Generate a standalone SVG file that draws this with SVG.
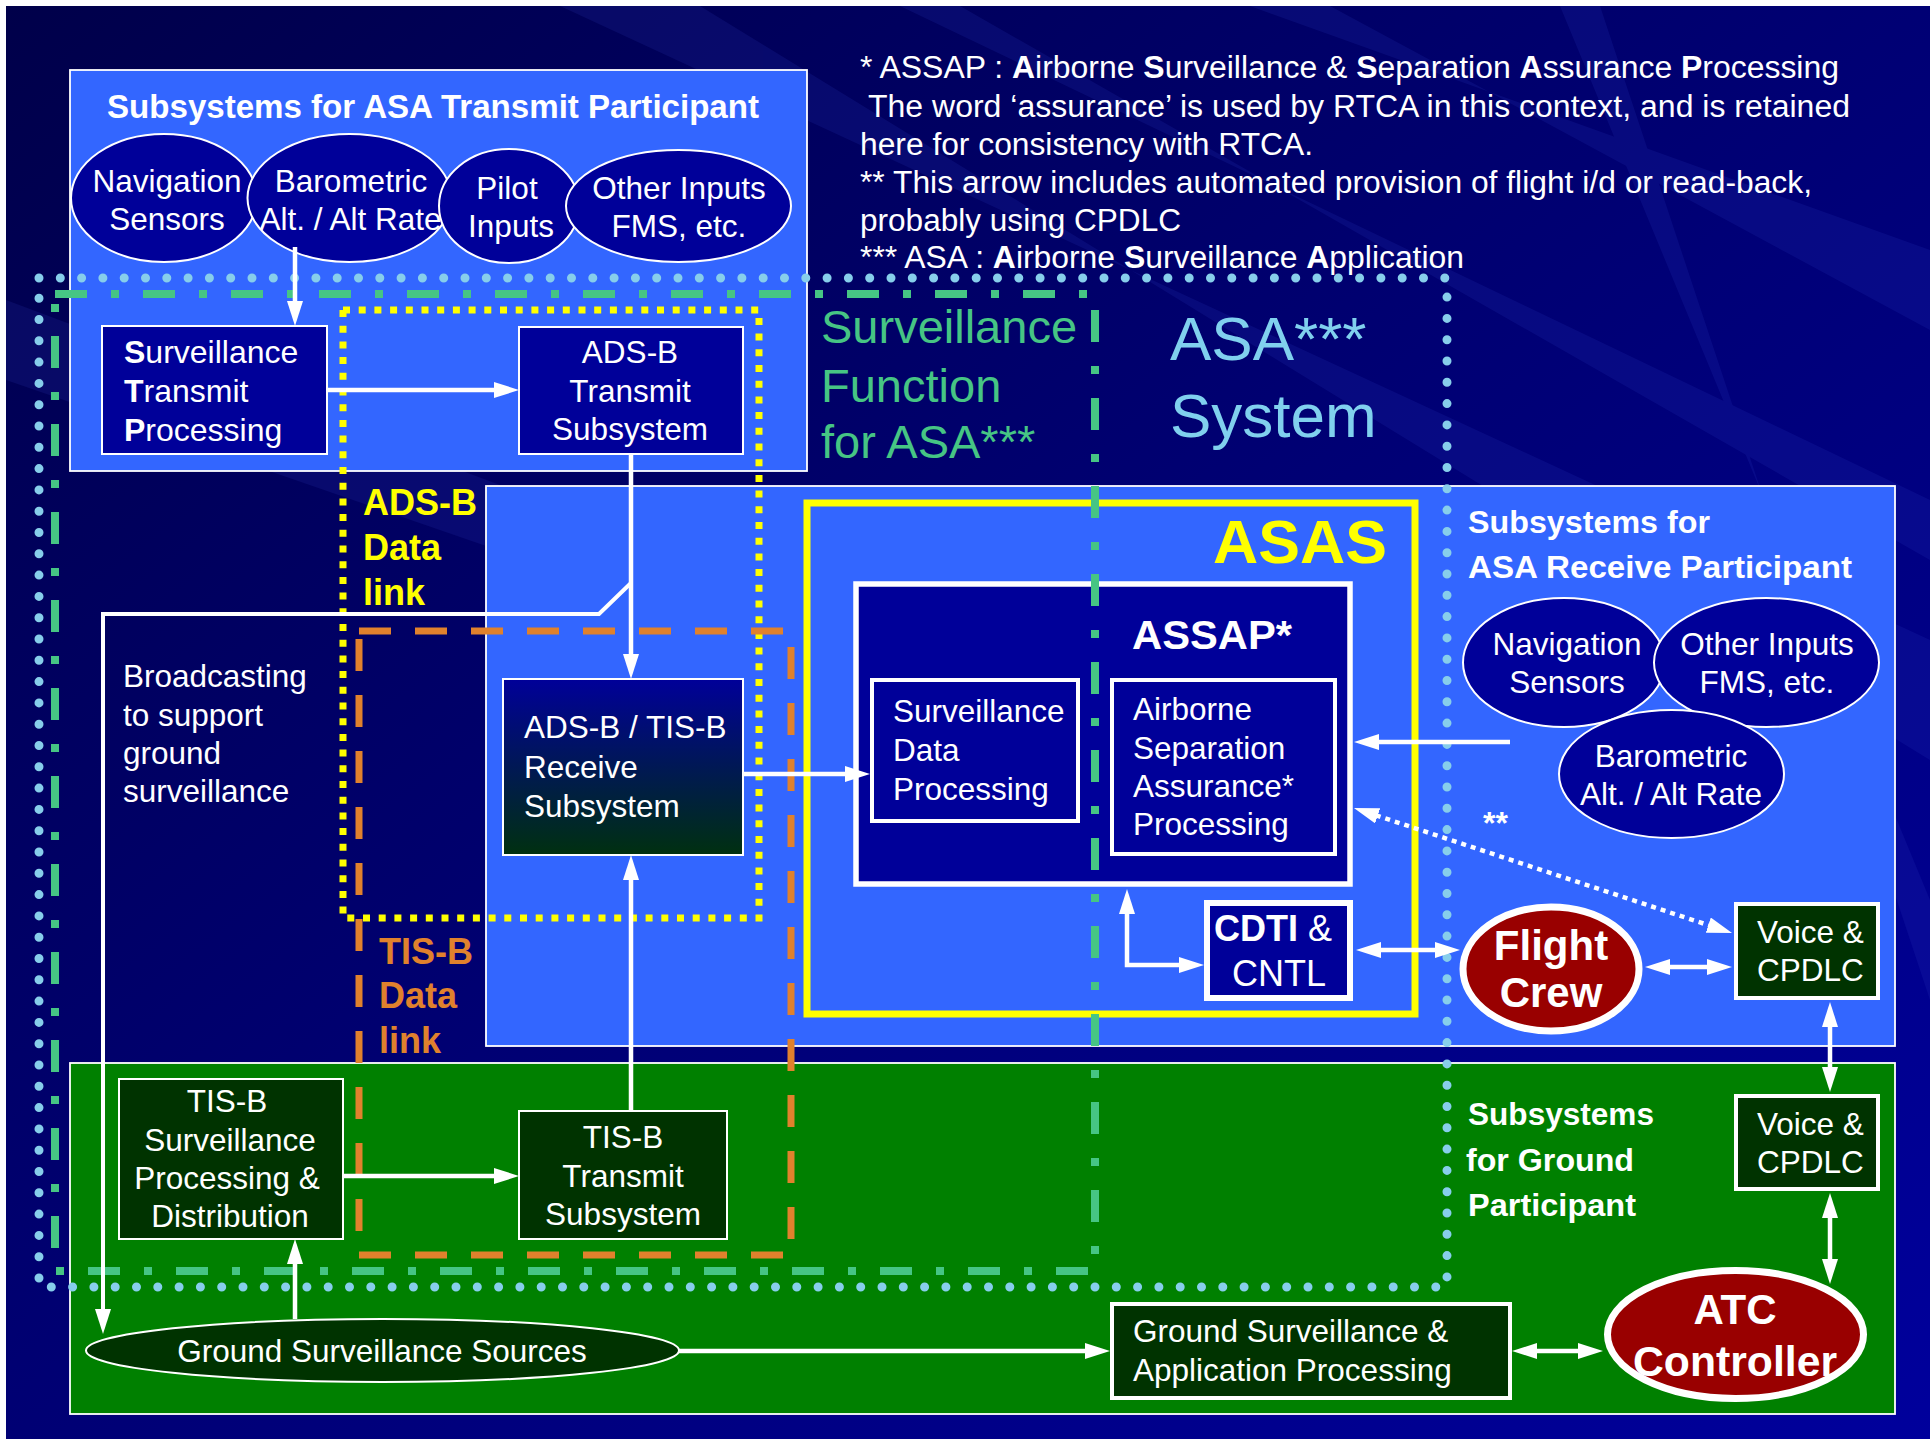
<svg xmlns="http://www.w3.org/2000/svg" width="1930" height="1439" viewBox="0 0 1930 1439" font-size="31.5">
<defs>
<linearGradient id="bg" x1="0" y1="0" x2="1" y2="1">
<stop offset="0" stop-color="#00004a"/>
<stop offset="0.5" stop-color="#000074"/>
<stop offset="1" stop-color="#00009c"/>
</linearGradient>
<linearGradient id="rcv" x1="0" y1="0" x2="0" y2="1">
<stop offset="0" stop-color="#000099"/>
<stop offset="1" stop-color="#003010"/>
</linearGradient>
<marker id="ah" markerUnits="userSpaceOnUse" markerWidth="25" markerHeight="16" viewBox="0 0 25 16" refX="12" refY="8" orient="auto-start-reverse">
<path d="M0,0 L25,8 L0,16 z" fill="#fff"/>
</marker>
<style>
text{font-family:'Liberation Sans',Arial,Helvetica,sans-serif;fill:#fff}
.b{font-weight:bold}
.m{text-anchor:middle}
.region{stroke:#fff;stroke-width:1.8}
.navy{fill:#000099;stroke:#fff}
.dg{fill:#003300;stroke:#fff}
.red{fill:#990000;stroke:#fff;stroke-width:7}
.conn{stroke:#fff;stroke-width:4.5;fill:none}
.frame{fill:none}
</style>
</defs>

<rect x="0" y="0" width="1930" height="1439" fill="#fff"/>
<rect x="6" y="6" width="1924" height="1433" fill="url(#bg)"/>
<g opacity="0.15" fill="#3344cc">
<polygon points="560,6 700,6 1930,760 1930,640"/>
<polygon points="900,6 960,6 1930,560 1930,500"/>
<polygon points="1250,6 1330,6 1930,330 1930,250"/>
<polygon points="1560,6 1600,6 1930,1000 1930,900"/>
<polygon points="6,300 6,380 700,620 700,560"/>
</g>

<g id="transmit-participant">
<rect class="region" x="70" y="70" width="737" height="401" fill="#3366ff"/>
<text class="b" x="107" y="118" font-size="33" textLength="652" lengthAdjust="spacingAndGlyphs">Subsystems for ASA Transmit Participant</text>
</g>
<g id="receive-participant">
<rect class="region" x="486" y="486" width="1409" height="560" fill="#3366ff"/>
<text class="b" x="1468" y="533" font-size="32" textLength="242" lengthAdjust="spacingAndGlyphs">Subsystems for</text>
<text class="b" x="1468" y="578" font-size="32" textLength="384" lengthAdjust="spacingAndGlyphs">ASA Receive Participant</text>
</g>
<g id="ground-participant">
<rect class="region" x="70" y="1063" width="1825" height="351" fill="#008000"/>
<text class="b" x="1468" y="1125" font-size="32" textLength="186" lengthAdjust="spacingAndGlyphs">Subsystems</text>
<text class="b" x="1466" y="1171" font-size="32" textLength="168" lengthAdjust="spacingAndGlyphs">for Ground</text>
<text class="b" x="1468" y="1216" font-size="32" textLength="168" lengthAdjust="spacingAndGlyphs">Participant</text>
</g>

<g id="notes" font-size="31">
<text x="860" y="78" textLength="979" lengthAdjust="spacingAndGlyphs">* ASSAP : <tspan class="b">A</tspan>irborne <tspan class="b">S</tspan>urveillance &amp; <tspan class="b">S</tspan>eparation <tspan class="b">A</tspan>ssurance <tspan class="b">P</tspan>rocessing</text>
<text x="868" y="117" textLength="982" lengthAdjust="spacingAndGlyphs">The word ‘assurance’ is used by RTCA in this context, and is retained</text>
<text x="860" y="155" textLength="453" lengthAdjust="spacingAndGlyphs">here for consistency with RTCA.</text>
<text x="860" y="193" textLength="952" lengthAdjust="spacingAndGlyphs">** This arrow includes automated provision of flight i/d or read-back,</text>
<text x="860" y="231" textLength="321" lengthAdjust="spacingAndGlyphs">probably using CPDLC</text>
<text x="860" y="268" textLength="604" lengthAdjust="spacingAndGlyphs">*** ASA : <tspan class="b">A</tspan>irborne <tspan class="b">S</tspan>urveillance <tspan class="b">A</tspan>pplication</text>
</g>

<g id="labels">
<text x="821" y="343" font-size="47" style="fill:#46c584">Surveillance</text>
<text x="821" y="402" font-size="47" style="fill:#46c584">Function</text>
<text x="821" y="458" font-size="47" style="fill:#46c584">for ASA***</text>
<text x="1170" y="360" font-size="62" style="fill:#80d0ee">ASA***</text>
<text x="1170" y="437" font-size="62" style="fill:#80d0ee">System</text>
<text class="b" x="363" y="515" font-size="36" style="fill:#ffff00">ADS-B</text>
<text class="b" x="363" y="560" font-size="36" style="fill:#ffff00">Data</text>
<text class="b" x="363" y="605" font-size="36" style="fill:#ffff00">link</text>
<text class="b" x="379" y="964" font-size="36" style="fill:#e0812d">TIS-B</text>
<text class="b" x="379" y="1008" font-size="36" style="fill:#e0812d">Data</text>
<text class="b" x="379" y="1053" font-size="36" style="fill:#e0812d">link</text>
<text x="123" y="687">Broadcasting</text>
<text x="123" y="726">to support</text>
<text x="123" y="764">ground</text>
<text x="123" y="802">surveillance</text>
<text class="b" x="1483" y="834" font-size="32">**</text>
</g>

<g id="asas">
<rect x="807" y="503" width="608" height="511" fill="none" stroke="#ffff00" stroke-width="7"/>
<text class="b" x="1213" y="563" font-size="62" style="fill:#ffff00" textLength="174" lengthAdjust="spacingAndGlyphs">ASAS</text>
</g>

<g id="tx-nav-sensors">
<ellipse class="navy" cx="164" cy="198" rx="93" ry="64" stroke-width="2"/>
<text class="m" x="167" y="192">Navigation</text>
<text class="m" x="167" y="230">Sensors</text>
</g>
<g id="tx-barometric">
<ellipse class="navy" cx="349.5" cy="198" rx="102" ry="64" stroke-width="2"/>
<text class="m" x="351" y="192">Barometric</text>
<text class="m" x="350.5" y="230">Alt. / Alt Rate</text>
</g>
<g id="tx-pilot-inputs">
<ellipse class="navy" cx="509" cy="206" rx="70" ry="57" stroke-width="2"/>
<text class="m" x="507" y="199">Pilot</text>
<text class="m" x="511" y="237">Inputs</text>
</g>
<g id="tx-other-inputs">
<ellipse class="navy" cx="678.5" cy="206" rx="112.5" ry="56" stroke-width="2"/>
<text class="m" x="679" y="199">Other Inputs</text>
<text class="m" x="679" y="237">FMS, etc.</text>
</g>

<g id="surveillance-transmit-processing">
<rect class="navy" x="102" y="326" width="225" height="128" stroke-width="2"/>
<text x="124" y="363" font-size="32"><tspan class="b">S</tspan>urveillance</text>
<text x="124" y="402" font-size="32"><tspan class="b">T</tspan>ransmit</text>
<text x="124" y="441" font-size="32"><tspan class="b">P</tspan>rocessing</text>
</g>
<g id="adsb-transmit">
<rect class="navy" x="519" y="327" width="224" height="127" stroke-width="2"/>
<text class="m" x="630" y="363">ADS-B</text>
<text class="m" x="630" y="402">Transmit</text>
<text class="m" x="630" y="440">Subsystem</text>
</g>
<g id="adsb-tisb-receive">
<rect x="503" y="679" width="240" height="176" fill="url(#rcv)" stroke="#fff" stroke-width="2"/>
<text x="524" y="738">ADS-B / TIS-B</text>
<text x="524" y="778">Receive</text>
<text x="524" y="817">Subsystem</text>
</g>

<g id="assap">
<rect class="navy" x="856" y="584" width="494" height="300" stroke-width="5.5"/>
<text class="b" x="1132" y="649" font-size="41" textLength="160" lengthAdjust="spacingAndGlyphs">ASSAP*</text>
</g>
<g id="surveillance-data-processing">
<rect class="navy" x="872" y="680" width="206" height="141" stroke-width="4"/>
<text x="893" y="722">Surveillance</text>
<text x="893" y="761">Data</text>
<text x="893" y="800">Processing</text>
</g>
<g id="airborne-separation-assurance">
<rect class="navy" x="1112" y="680" width="223" height="174" stroke-width="4"/>
<text x="1133" y="720">Airborne</text>
<text x="1133" y="759">Separation</text>
<text x="1133" y="797">Assurance*</text>
<text x="1133" y="835">Processing</text>
</g>
<g id="cdti-cntl">
<rect class="navy" x="1207" y="903" width="143" height="95" stroke-width="6"/>
<text x="1214" y="941" font-size="36"><tspan class="b">CDTI</tspan> &amp;</text>
<text class="m" x="1279" y="986" font-size="36">CNTL</text>
</g>

<g id="rx-nav-sensors">
<ellipse class="navy" cx="1564" cy="662.5" rx="101" ry="64.5" stroke-width="2"/>
<text class="m" x="1567" y="655">Navigation</text>
<text class="m" x="1567" y="693">Sensors</text>
</g>
<g id="rx-other-inputs">
<ellipse class="navy" cx="1766.5" cy="662.5" rx="112.5" ry="64.5" stroke-width="2"/>
<text class="m" x="1767" y="655">Other Inputs</text>
<text class="m" x="1767" y="693">FMS, etc.</text>
</g>
<g id="rx-barometric">
<ellipse class="navy" cx="1671.5" cy="774" rx="112.5" ry="64" stroke-width="2"/>
<text class="m" x="1671" y="767">Barometric</text>
<text class="m" x="1671" y="805">Alt. / Alt Rate</text>
</g>

<g id="flight-crew">
<ellipse class="red" cx="1551" cy="969" rx="88" ry="62"/>
<text class="b m" x="1551" y="960" font-size="42">Flight</text>
<text class="b m" x="1551" y="1007" font-size="42">Crew</text>
</g>
<g id="voice-cpdlc-air">
<rect class="dg" x="1736" y="904" width="142" height="94" stroke-width="4"/>
<text x="1757" y="943">Voice &amp;</text>
<text x="1757" y="981">CPDLC</text>
</g>
<g id="voice-cpdlc-ground">
<rect class="dg" x="1736" y="1096" width="142" height="93" stroke-width="4"/>
<text x="1757" y="1135">Voice &amp;</text>
<text x="1757" y="1173">CPDLC</text>
</g>

<g id="tisb-surveillance-processing">
<rect class="dg" x="119" y="1079" width="224" height="160" stroke-width="2"/>
<text class="m" x="227" y="1112">TIS-B</text>
<text class="m" x="230" y="1151">Surveillance</text>
<text class="m" x="227" y="1189">Processing &amp;</text>
<text class="m" x="230" y="1227">Distribution</text>
</g>
<g id="tisb-transmit">
<rect class="dg" x="519" y="1111" width="208" height="128" stroke-width="2"/>
<text class="m" x="623" y="1148">TIS-B</text>
<text class="m" x="623" y="1187">Transmit</text>
<text class="m" x="623" y="1225">Subsystem</text>
</g>
<g id="ground-surveillance-sources">
<ellipse class="dg" cx="382.5" cy="1350.5" rx="296.5" ry="31.5" stroke-width="2"/>
<text class="m" x="382" y="1362">Ground Surveillance Sources</text>
</g>
<g id="ground-surveillance-application">
<rect class="dg" x="1112" y="1304" width="398" height="94" stroke-width="4"/>
<text x="1133" y="1342">Ground Surveillance &amp;</text>
<text x="1133" y="1381">Application Processing</text>
</g>
<g id="atc-controller">
<ellipse class="red" cx="1735.5" cy="1334.5" rx="128" ry="64"/>
<text class="b m" x="1735" y="1324" font-size="42">ATC</text>
<text class="b m" x="1735" y="1376" font-size="42" textLength="204" lengthAdjust="spacingAndGlyphs">Controller</text>
</g>

<g id="frames" class="frame">
<rect x="39" y="278" width="1408" height="1009" stroke="#87ceeb" stroke-width="9" stroke-dasharray="0 21.3" stroke-linecap="round"/>
<rect x="55" y="294" width="1040" height="977" stroke="#46c584" stroke-width="8" stroke-dasharray="32 24 8 24"/>
<rect x="343" y="310" width="416" height="608" stroke="#ffff00" stroke-width="7" stroke-dasharray="7 8.7"/>
<rect x="359" y="631" width="432" height="624" stroke="#e0812d" stroke-width="7" stroke-dasharray="32 24"/>
</g>

<g id="connectors">
<path class="conn" d="M295,247 V313" marker-end="url(#ah)"/>
<path class="conn" d="M327,390 H506" marker-end="url(#ah)"/>
<path class="conn" d="M631,454 V666" marker-end="url(#ah)"/>
<path class="conn" style="stroke-width:4" d="M631,583 L599,614 H103 V1321" marker-end="url(#ah)"/>
<path class="conn" d="M743,774 H857" marker-end="url(#ah)"/>
<path class="conn" d="M631,1111 V868" marker-end="url(#ah)"/>
<path class="conn" d="M343,1176 H506" marker-end="url(#ah)"/>
<path class="conn" d="M295,1319 V1252" marker-end="url(#ah)"/>
<path class="conn" d="M679,1351 H1097" marker-end="url(#ah)"/>
<path class="conn" d="M1525,1351 H1590" marker-start="url(#ah)" marker-end="url(#ah)"/>
<path class="conn" d="M1830,1015 V1079" marker-start="url(#ah)" marker-end="url(#ah)"/>
<path class="conn" d="M1830,1206 V1271" marker-start="url(#ah)" marker-end="url(#ah)"/>
<path class="conn" d="M1658,967 H1719" marker-start="url(#ah)" marker-end="url(#ah)"/>
<path class="conn" d="M1369,950 H1447" marker-start="url(#ah)" marker-end="url(#ah)"/>
<path class="conn" d="M1127,902 V965 H1191" marker-start="url(#ah)" marker-end="url(#ah)"/>
<path class="conn" d="M1510,742 H1367" marker-end="url(#ah)"/>
<path class="conn" style="stroke-dasharray:5 5" d="M1366.3,812.1 L1719.7,928.9" marker-start="url(#ah)" marker-end="url(#ah)"/>
</g>
</svg>
